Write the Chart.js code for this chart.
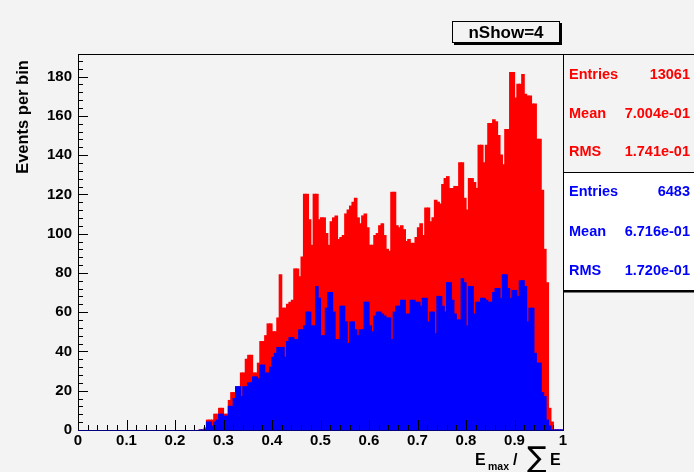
<!DOCTYPE html>
<html>
<head>
<meta charset="utf-8">
<script src="https://cdn.jsdelivr.net/npm/chart.js@4.4.1/dist/chart.umd.min.js"></script>
<style>
  html, body { margin: 0; padding: 0; background: #f3f3f3; }
</style>
</head>
<body>
<canvas id="hist" width="694" height="472"></canvas>
<script>
// histogram binning: 200 bins on [0, 1], data starts at bin 50
const binWidth = 0.005;
const firstBin = 50;

const redCounts = [
    0, 0, 1, 5, 5, 5, 8, 8, 11, 11,
    8, 8, 15, 19, 19, 22, 22, 29, 29, 36,
    38, 38, 29, 29, 34, 45, 45, 48, 54, 54,
    50, 50, 57, 79, 62, 62, 64, 65, 66, 82,
    82, 78, 88, 120, 120, 107, 94, 120, 120, 107,
    108, 108, 100, 94, 106, 108, 109, 97, 98, 99,
    110, 112, 114, 116, 118, 108, 105, 109, 110, 103,
    94, 94, 99, 100, 104, 105, 99, 92, 91, 121,
    121, 104, 103, 104, 102, 96, 97, 95, 95, 98,
    103, 105, 99, 113, 113, 106, 108, 117, 116, 115,
    125, 128, 129, 123, 123, 124, 124, 136, 136, 118,
    112, 128, 128, 126, 123, 145, 145, 136, 145, 156,
    156, 158, 157, 150, 140, 135, 153, 153, 182, 182,
    169, 176, 176, 181, 171, 170, 170, 166, 166, 148,
    148, 122, 92, 75, 11, 4, 0, 0, 0, 0
];

const blueCounts = [
    0, 0, 0, 4, 4, 2, 4, 5, 8, 8,
    7, 7, 12, 12, 16, 22, 22, 17, 22, 22,
    24, 24, 27, 27, 26, 33, 33, 29, 29, 32,
    37, 39, 42, 42, 42, 37, 45, 47, 47, 46,
    46, 51, 51, 53, 60, 60, 53, 53, 73, 67,
    48, 48, 62, 70, 70, 60, 46, 46, 63, 63,
    55, 44, 55, 55, 51, 48, 51, 51, 65, 65,
    53, 50, 58, 60, 60, 59, 58, 57, 57, 46,
    60, 63, 63, 66, 66, 59, 59, 66, 66, 65,
    65, 63, 67, 67, 55, 60, 60, 49, 68, 68,
    63, 60, 75, 75, 66, 59, 56, 56, 77, 75,
    53, 73, 73, 59, 65, 65, 67, 67, 66, 65,
    65, 70, 72, 72, 67, 79, 79, 72, 67, 71,
    71, 68, 76, 76, 73, 55, 62, 62, 39, 34,
    34, 19, 17, 5, 2, 0, 0, 0, 0, 0
];

const redStats = [['Entries', '13061'], ['Mean', '7.004e-01'], ['RMS', '1.741e-01']];
const blueStats = [['Entries', '6483'], ['Mean', '6.716e-01'], ['RMS', '1.720e-01']];
const titleText = 'nShow=4';
const yTitle = 'Events per bin';

const FONT = '"Liberation Sans", Arial, Helvetica, sans-serif';
const BG = '#f3f3f3';

function toPoints(counts) {
    return counts.map((c, i) => ({ x: (firstBin + i + 0.5) * binWidth, y: c }));
}

const rootStyle = {
    id: 'rootStyle',
    beforeDraw(chart) {
        const c = chart.ctx;
        c.save();
        c.fillStyle = BG;
        c.fillRect(0, 0, chart.width, chart.height);
        c.restore();
    },
    afterDatasetsDraw(chart) {
        const c = chart.ctx;
        const a = chart.chartArea;
        const xs = chart.scales.x, ys = chart.scales.y;
        c.save();
        c.strokeStyle = '#000';
        c.lineWidth = 1;
        c.beginPath();
        // x ticks, inside the frame
        for (let i = 0; i <= 50; i++) {
            const px = Math.round(xs.getPixelForValue(i * 0.02)) + 0.5;
            const len = i % 5 === 0 ? 10 : 5;
            c.moveTo(px, a.bottom);
            c.lineTo(px, a.bottom - len);
        }
        // y ticks
        for (let v = 0; v <= 188; v += 4) {
            const py = Math.round(ys.getPixelForValue(v)) + 0.5;
            const len = v % 20 === 0 ? 10 : 5;
            c.moveTo(a.left, py);
            c.lineTo(a.left + len, py);
        }
        c.stroke();
        c.strokeRect(Math.round(a.left) + 0.5, Math.round(a.top) + 0.5,
            Math.round(a.right - a.left), Math.round(a.bottom - a.top));
        c.strokeStyle = '#00007f';
        c.beginPath();
        c.moveTo(a.left, Math.round(a.bottom) + 0.5);
        c.lineTo(a.right, Math.round(a.bottom) + 0.5);
        c.stroke();
        c.restore();
    },
    afterDraw(chart) {
        const c = chart.ctx;
        c.save();

        // stats box
        const left = 563.5, top = 54.5, mid = 172.5, bottom = 290.5, right = 700;
        c.fillStyle = BG;
        c.fillRect(left, top, right - left, mid - top);
        c.fillStyle = '#fff';
        c.fillRect(left, mid, right - left, bottom - mid);
        c.strokeStyle = '#000';
        c.lineWidth = 1;
        c.strokeRect(left, top, right - left, bottom - top);
        c.beginPath();
        c.moveTo(left, mid); c.lineTo(right, mid);
        c.stroke();
        c.fillStyle = '#000';
        c.fillRect(left, bottom, right - left, 2);

        c.font = 'bold 14.5px ' + FONT;
        c.textBaseline = 'middle';
        const rowsY = [75, 114, 152, 192, 232, 271];
        redStats.concat(blueStats).forEach((row, i) => {
            c.fillStyle = i < 3 ? '#ff0000' : '#0000ff';
            c.textAlign = 'left';
            c.fillText(row[0], 569, rowsY[i]);
            c.textAlign = 'right';
            c.fillText(row[1], 690, rowsY[i]);
        });

        // title box with shadow
        c.fillStyle = '#000';
        c.fillRect(454, 23, 108, 22);
        c.fillStyle = BG;
        c.fillRect(452, 21, 108, 22);
        c.strokeRect(452.5, 21.5, 107, 21);
        c.fillStyle = '#000';
        c.font = 'bold 17px ' + FONT;
        c.textAlign = 'center';
        c.textBaseline = 'middle';
        c.fillText(titleText, 506, 33);

        // y axis title
        c.save();
        c.translate(23, 117);
        c.rotate(-Math.PI / 2);
        c.font = 'bold 16.5px ' + FONT;
        c.fillText(yTitle, 0, 0);
        c.restore();

        // x axis title: E_max / sum E
        c.textAlign = 'left';
        c.textBaseline = 'alphabetic';
        c.font = 'bold 16px ' + FONT;
        c.fillText('E', 475, 465);
        c.font = 'bold 10.5px ' + FONT;
        c.fillText('max', 488, 470);
        c.font = 'bold 16px ' + FONT;
        c.fillText('/', 513, 465);
        c.font = '29px "DejaVu Sans", sans-serif';
        c.fillText('\u2211', 527, 467);
        c.font = 'bold 16px ' + FONT;
        c.fillText('E', 550, 465);

        c.restore();
    }
};

const ctx = document.getElementById('hist').getContext('2d');
new Chart(ctx, {
    type: 'bar',
    data: {
        datasets: [
            { label: 'blue', data: toPoints(blueCounts), backgroundColor: '#0000ff', order: 0 },
            { label: 'red', data: toPoints(redCounts), backgroundColor: '#ff0000', order: 1 }
        ]
    },
    options: {
        responsive: false,
        animation: false,
        devicePixelRatio: 1,
        layout: { padding: { top: 54, right: 131, left: 0, bottom: 0 } },
        datasets: {
            bar: { grouped: false, barPercentage: 1, categoryPercentage: 1, borderWidth: 0, inflateAmount: 0.6 }
        },
        plugins: {
            legend: { display: false },
            tooltip: { enabled: false }
        },
        scales: {
            x: {
                type: 'linear',
                min: 0,
                max: 1,
                offset: false,
                grid: { display: false, drawTicks: false },
                border: { display: false },
                ticks: {
                    stepSize: 0.1,
                    autoSkip: false,
                    maxRotation: 0,
                    padding: 2,
                    color: '#000',
                    font: { family: FONT, size: 15, weight: 'bold' },
                    callback: v => String(Math.round(v * 10) / 10)
                },
                afterFit: s => { s.height = 42; }
            },
            y: {
                type: 'linear',
                min: 0,
                max: 191.5,
                grid: { display: false, drawTicks: false },
                border: { display: false },
                ticks: {
                    stepSize: 20,
                    includeBounds: false,
                    autoSkip: false,
                    padding: 6,
                    color: '#000',
                    font: { family: FONT, size: 15, weight: 'bold' }
                },
                afterFit: s => { s.width = 78; }
            }
        }
    },
    plugins: [rootStyle]
});
</script>
</body>
</html>
